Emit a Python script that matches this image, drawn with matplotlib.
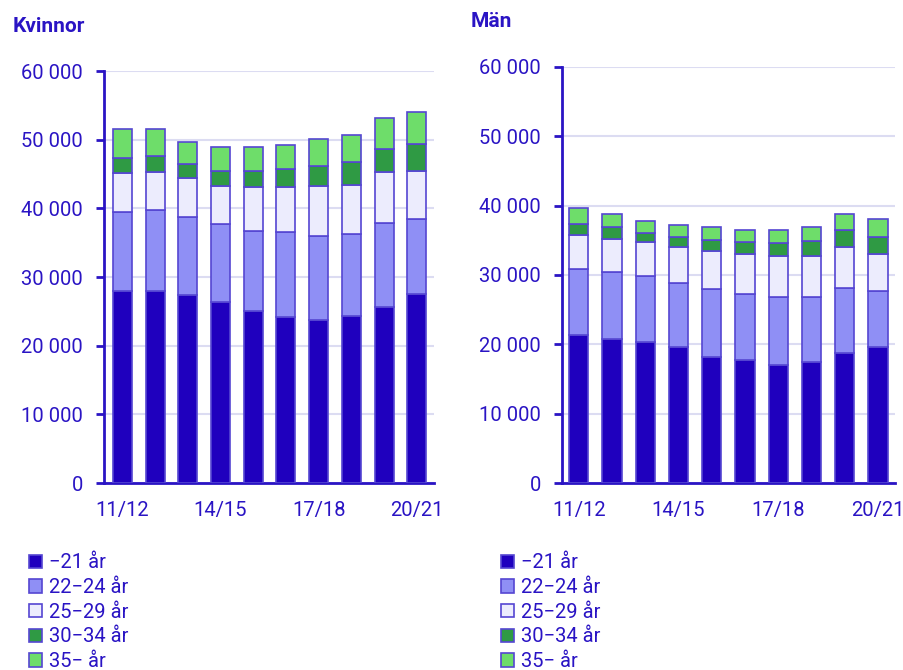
import numpy as np
import matplotlib
matplotlib.use("Agg")
import matplotlib.pyplot as plt
from matplotlib.patches import Patch

plt.rcParams['font.family'] = ['Roboto', 'DejaVu Sans']

# data
years = ["11/12", "12/13", "13/14", "14/15", "15/16", "16/17", "17/18", "18/19", "19/20", "20/21"]
groups = ["\u221221 år", "22\u221224 år", "25\u221229 år", "30\u221234 år", "35\u2212 år"]

kv_21 = [27900, 27900, 27400, 26300, 25000, 24200, 23800, 24400, 25700, 27600]
kv_22_24 = [11600, 11800, 11400, 11400, 11700, 12300, 12200, 11900, 12100, 10800]
kv_25_29 = [5600, 5600, 5600, 5500, 6400, 6600, 7200, 7100, 7500, 7100]
kv_30_34 = [2300, 2300, 2000, 2300, 2400, 2600, 3000, 3400, 3400, 3900]
kv_35 = [4100, 3900, 3200, 3400, 3400, 3600, 3900, 3900, 4500, 4700]

man_21 = [21300, 20700, 20300, 19600, 18200, 17700, 17000, 17500, 18700, 19600]
man_22_24 = [9500, 9700, 9600, 9200, 9700, 9600, 9800, 9300, 9400, 8100]
man_25_29 = [5000, 4800, 4800, 5200, 5500, 5700, 5900, 5900, 5900, 5300]
man_30_34 = [1500, 1700, 1300, 1500, 1700, 1700, 1900, 2200, 2400, 2400]
man_35 = [2400, 1900, 1800, 1700, 1800, 1800, 1800, 2000, 2400, 2700]

colors = ["#1f00be", "#8f8ff5", "#ececfd", "#2f9a44", "#6edd6a"]
edge = "#5546d2"
txt = "#2a14c4"
grid = "#dcdcf2"

fig = plt.figure(figsize=(9.04, 6.7), dpi=100)
ax1 = fig.add_axes([0.115, 0.279, 0.365, 0.615])
ax2 = fig.add_axes([0.6217, 0.279, 0.368, 0.6214])


def draw(ax, series, xlim):
    x = np.arange(len(years))
    bottom = np.zeros(len(years))
    for vals, c in zip(series, colors):
        ax.bar(x, vals, bottom=bottom, width=0.58, color=c, edgecolor=edge, linewidth=1.2, zorder=3)
        bottom += np.array(vals)
    ax.set_ylim(0, 60000)
    ax.set_xlim(*xlim)
    ax.set_yticks(range(0, 60001, 10000))
    ax.set_yticklabels([f"{v:,}".replace(",", " ") for v in range(0, 60001, 10000)])
    ax.set_xticks([0, 3, 6, 9])
    ax.set_xticklabels([years[i] for i in [0, 3, 6, 9]])
    ax.yaxis.grid(True, color=grid, linewidth=1.5, zorder=0)
    ax.set_axisbelow(True)
    for s in ["top", "right"]:
        ax.spines[s].set_visible(False)
    ax.spines["left"].set_color(txt)
    ax.spines["left"].set_linewidth(2)
    ax.spines["bottom"].set_color(txt)
    ax.spines["bottom"].set_linewidth(2)
    ax.tick_params(axis="y", colors=txt, labelsize=14.5, length=6, width=2, pad=9)
    ax.tick_params(axis="x", colors=txt, labelsize=14.5, length=0, pad=13)


draw(ax1, [kv_21, kv_22_24, kv_25_29, kv_30_34, kv_35], (-0.56, 9.52))
draw(ax2, [man_21, man_22_24, man_25_29, man_30_34, man_35], (-0.5, 9.5))

fig.text(0.014, 1 - 31.7 / 670, "Kvinnor", fontsize=15, fontweight="bold", color=txt, va="baseline")
fig.text(0.5207, 1 - 27 / 670, "Män", fontsize=15, fontweight="bold", color=txt, va="baseline")

handles = [Patch(facecolor=c, edgecolor=edge, linewidth=1.2) for c in colors]
for xpos in [0.032, 0.554]:
    fig.legend(handles, groups, loc="upper left", bbox_to_anchor=(xpos, 0.174), frameon=False,
               fontsize=14.5, handlelength=0.65, handleheight=0.65, handletextpad=0.35,
               labelspacing=0.28, borderpad=0, borderaxespad=0, labelcolor=txt)

plt.savefig("out.png", dpi=100)
